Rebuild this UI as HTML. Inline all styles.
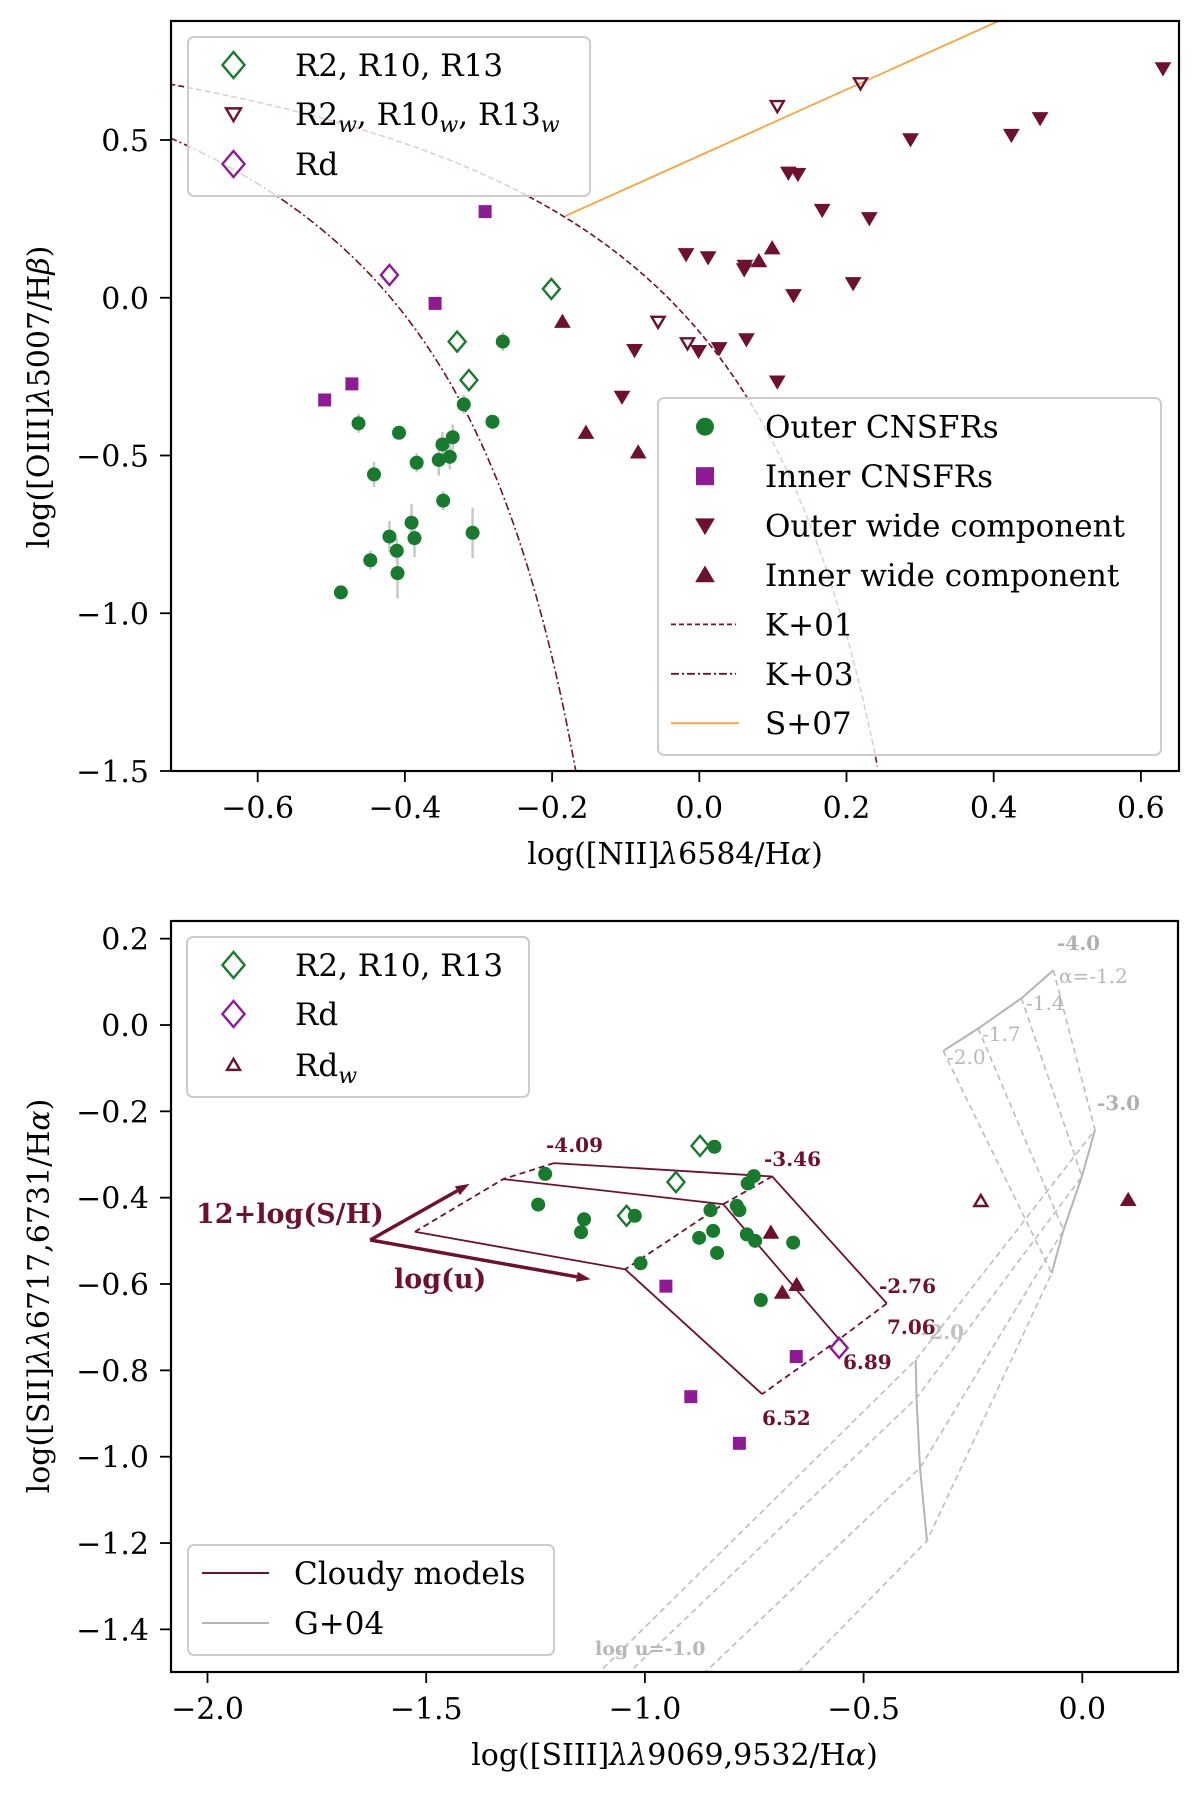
<!DOCTYPE html>
<html><head><meta charset="utf-8"><style>
html,body{margin:0;padding:0;background:#fff;}
svg{display:block;font-family:"DejaVu Serif","Liberation Serif",serif;}
</style></head><body>
<svg id="fig" width="1200" height="1795" viewBox="0 0 1200 1795" xmlns="http://www.w3.org/2000/svg">
<defs>
<clipPath id="clipA"><rect x="171" y="21" width="1008" height="750"/></clipPath>
<clipPath id="clipB"><rect x="171" y="921" width="1007" height="751"/></clipPath>
</defs>
<g id="plotA"></g>
<g id="plotB"></g>
</svg>
<script>
// ===== Panel A data =====
const aXTicks = [-0.6,-0.4,-0.2,0.0,0.2,0.4,0.6];
const aXTickLabels = ["\u22120.6","\u22120.4","\u22120.2","0.0","0.2","0.4","0.6"];
const aYTicks = [0.5,0.0,-0.5,-1.0,-1.5];
const aYTickLabels = ["0.5","0.0","\u22120.5","\u22121.0","\u22121.5"];
const aOuterX = [-0.267,-0.320,-0.281,-0.463,-0.408,-0.349,-0.335,-0.384,-0.354,-0.339,-0.442,-0.348,-0.391,-0.421,-0.387,-0.308,-0.411,-0.447,-0.410,-0.487];
const aOuterY = [-0.139,-0.338,-0.393,-0.398,-0.428,-0.465,-0.442,-0.523,-0.514,-0.504,-0.560,-0.643,-0.713,-0.757,-0.762,-0.745,-0.802,-0.832,-0.873,-0.934];
const aOuterErr = [0.03,0.03,0.02,0.03,0.02,0.04,0.04,0.03,0.05,0.04,0.04,0.03,0.06,0.05,0.06,0.08,0.04,0.03,0.08,0.02];
const aInnerX = [-0.291,-0.359,-0.472,-0.509];
const aInnerY = [0.273,-0.018,-0.273,-0.324];
const aOWX = [0.630,0.463,0.424,0.287,0.121,0.134,0.167,0.231,-0.018,0.012,0.062,0.061,0.209,0.128,-0.088,-0.001,0.027,0.064,-0.105,0.106];
const aOWY = [0.727,0.569,0.516,0.502,0.396,0.392,0.278,0.252,0.138,0.128,0.101,0.090,0.046,0.008,-0.166,-0.169,-0.160,-0.132,-0.314,-0.266];
const aIWX = [-0.186,-0.154,-0.083,0.099,0.081];
const aIWY = [-0.076,-0.428,-0.490,0.157,0.116];
const aRX = [-0.201,-0.329,-0.313];
const aRY = [0.028,-0.139,-0.261];
const aRWX = [0.106,0.219,-0.056,-0.016];
const aRWY = [0.608,0.680,-0.076,-0.144];
const aRdX = [-0.421];
const aRdY = [0.072];

// ===== Panel B data =====
const bXTicks = [-2.0,-1.5,-1.0,-0.5,0.0];
const bXTickLabels = ["\u22122.0","\u22121.5","\u22121.0","\u22120.5","0.0"];
const bYTicks = [0.2,0.0,-0.2,-0.4,-0.6,-0.8,-1.0,-1.2,-1.4];
const bYTickLabels = ["0.2","0.0","\u22120.2","\u22120.4","\u22120.6","\u22120.8","\u22121.0","\u22121.2","\u22121.4"];
const bOuterX = [-1.228,-1.244,-1.139,-1.146,-1.023,-1.010,-0.841,-0.751,-0.765,-0.850,-0.790,-0.784,-0.844,-0.876,-0.835,-0.767,-0.748,-0.661,-0.735];
const bOuterY = [-0.345,-0.416,-0.450,-0.480,-0.442,-0.552,-0.282,-0.350,-0.367,-0.429,-0.419,-0.429,-0.477,-0.493,-0.528,-0.485,-0.500,-0.504,-0.637];
const bInnerX = [-0.952,-0.654,-0.895,-0.784];
const bInnerY = [-0.605,-0.768,-0.861,-0.969];
const bRX = [-0.874,-0.929,-1.042];
const bRY = [-0.280,-0.364,-0.442];
const bRdX = [-0.556];
const bRdY = [-0.748];
const bIWX = [-0.712,-0.686,-0.653,0.105];
const bIWY = [-0.481,-0.620,-0.602,-0.405];
const bRdWX = [-0.232];
const bRdWY = [-0.408];
const cloudyRowsX = [[-1.208,-0.709,-0.447],[-1.324,-0.821,-0.556],[-1.526,-1.045,-0.732]];
const cloudyRowsY = [[-0.320,-0.351,-0.645],[-0.357,-0.415,-0.728],[-0.479,-0.566,-0.855]];
const gAlphaX = [[-0.066,0.029,-0.381,-1.105],[-0.139,-0.001,-0.379,-1.036],[-0.238,-0.043,-0.371,-0.863],[-0.318,-0.070,-0.355,-0.650]];
const gAlphaY = [[0.127,-0.243,-0.776,-1.5],[0.062,-0.351,-0.864,-1.5],[-0.008,-0.475,-1.026,-1.5],[-0.060,-0.575,-1.195,-1.5]];

const NS = "http://www.w3.org/2000/svg";
const DR = "#6e1030", GR = "#187a2c", PU = "#8e1a94", OR = "#f7a33a", GY = "#b4b4b4";

function mk(parent, tag, attrs, text) {
  const e = document.createElementNS(NS, tag);
  for (const k in attrs) e.setAttribute(k, attrs[k]);
  if (text !== undefined) e.textContent = text;
  parent.appendChild(e);
  return e;
}
const axA = { x: v => 699.3 + 736 * v, y: v => 297.75 - 315.5 * v };
const axB = { x: v => 1082.3 + 437.4 * v, y: v => 1025 - 431.7 * v };

function diamond(g, cx, cy, h, col) {
  return mk(g, "path", {d:`M${cx},${cy-h}L${cx+h*0.85},${cy}L${cx},${cy+h}L${cx-h*0.85},${cy}Z`, fill:"none", stroke:col, "stroke-width":2.4});
}
function tri(g, cx, cy, s, down, col, open) {
  const d = down ? `M${cx-s},${cy-s*0.75}L${cx+s},${cy-s*0.75}L${cx},${cy+s*0.95}Z` : `M${cx-s},${cy+s*0.75}L${cx+s},${cy+s*0.75}L${cx},${cy-s*0.95}Z`;
  return mk(g, "path", open ? {d:d, fill:"none", stroke:col, "stroke-width":2.4} : {d:d, fill:col, stroke:col, "stroke-width":1});
}
function square(g, cx, cy, s, col) { return mk(g, "rect", {x:cx-s, y:cy-s, width:2*s, height:2*s, fill:col}); }
function circ(g, cx, cy, r, col) { return mk(g, "circle", {cx:cx, cy:cy, r:r, fill:col}); }

// parts: strings, {i:"λ"} italic, {sub:"w"}
function richText(t, parts, subSize) {
  let shift = 0;
  parts.forEach(p => {
    if (typeof p === "string") { mk(t, "tspan", shift ? {dy:-shift} : {}, p); shift = 0; }
    else if (p.i !== undefined) { mk(t, "tspan", Object.assign({"font-style":"italic"}, shift ? {dy:-shift} : {}), p.i); shift = 0; }
    else { mk(t, "tspan", {"font-size":subSize, "font-style":"italic", dy:7}, p.sub); shift = 7; }
  });
}

function frame(g, L, T, R, B, xt, xl, yt, yl, ax, xlab, ylab, ylabY) {
  let e;
  e = mk(g, "rect", {x:L, y:T, width:R-L, height:B-T, fill:"none", stroke:"#000", "stroke-width":2.2});
  
  
  xt.forEach((v,i) => {
    const x = ax.x(v);
    mk(g, "line", {x1:x, x2:x, y1:B, y2:B+11, stroke:"#000", "stroke-width":1.8});
    e = mk(g, "text", {x:x, y:B+47, "font-size":30, "text-anchor":"middle", fill:"#000"}, xl[i]);
    
    
  });
  yt.forEach((v,i) => {
    const y = ax.y(v);
    mk(g, "line", {x1:L-11, x2:L, y1:y, y2:y, stroke:"#000", "stroke-width":1.8});
    e = mk(g, "text", {x:L-22, y:y+11, "font-size":30, "text-anchor":"end", fill:"#000"}, yl[i]);
    
    
  });
  e = mk(g, "text", {x:(L+R)/2, y:B+93, "font-size":30, "text-anchor":"middle"});
  richText(e, xlab, 22);
  
  
  e = mk(g, "text", {x:0, y:0, "font-size":30, "text-anchor":"middle", transform:`translate(49,${ylabY}) rotate(-90)`});
  richText(e, ylab, 22);
  
  
}
function legendBox(g, x, y, w, h, name) {
  const e = mk(g, "rect", {x:x, y:y, width:w, height:h, rx:6, fill:"#fff", "fill-opacity":0.8, stroke:"#cccccc", "stroke-width":2});
  
  
}
function ltext(g, x, y, parts) {
  const t = mk(g, "text", {x:x, y:y+11, "font-size":31, fill:"#000"});
  richText(t, parts, 22);
  
  
  return t;
}

// ===== Panel A =====
(function(){
  const g = document.getElementById("plotA");
  const ax = axA;
  const clip = mk(g, "g", {"clip-path":"url(#clipA)"});
  let d1 = "", d3 = "";
  for (let i = 0; i <= 300; i++) {
    const x = -0.72 + i * (0.242 + 0.72) / 300;
    const y = 0.61 / (x - 0.47) + 1.19;
    d1 += (i ? "L" : "M") + ax.x(x).toFixed(1) + "," + ax.y(y).toFixed(1);
  }
  for (let i = 0; i <= 300; i++) {
    const x = -0.72 + i * (-0.168 + 0.72) / 300;
    const y = 0.61 / (x - 0.05) + 1.3;
    d3 += (i ? "L" : "M") + ax.x(x).toFixed(1) + "," + ax.y(y).toFixed(1);
  }
  let e = mk(clip, "path", {d:d1, fill:"none", stroke:DR, "stroke-width":1.6, "stroke-dasharray":"6,3"});
  
  
  e = mk(clip, "path", {d:d3, fill:"none", stroke:DR, "stroke-width":1.6, "stroke-dasharray":"8,3,2,3"});
  
  
  const sx0 = -0.182, sx1 = 0.41;
  e = mk(clip, "line", {x1:ax.x(sx0), y1:ax.y(1.05*sx0+0.45), x2:ax.x(sx1), y2:ax.y(1.05*sx1+0.45), stroke:OR, "stroke-width":1.8});
  
  
  aOuterX.forEach((v,i) => {
    e = mk(clip, "line", {x1:ax.x(v), x2:ax.x(v), y1:ax.y(aOuterY[i]+aOuterErr[i]), y2:ax.y(aOuterY[i]-aOuterErr[i]), stroke:"#c8c8c8", "stroke-width":2.5});
    
    
  });
  aOuterX.forEach((v,i) => { e = circ(clip, ax.x(v), ax.y(aOuterY[i]), 7, GR);
    
     });
  aInnerX.forEach((v,i) => { e = square(clip, ax.x(v), ax.y(aInnerY[i]), 6.5, PU);
    
     });
  aOWX.forEach((v,i) => { e = tri(clip, ax.x(v), ax.y(aOWY[i]), 7.5, true, DR, false);
    
     });
  aIWX.forEach((v,i) => { e = tri(clip, ax.x(v), ax.y(aIWY[i]), 7.5, false, DR, false);
    
     });
  aRX.forEach((v,i) => { e = diamond(clip, ax.x(v), ax.y(aRY[i]), 10, GR);
    
     });
  aRWX.forEach((v,i) => { e = tri(clip, ax.x(v), ax.y(aRWY[i]), 6.5, true, DR, true);
    
     });
  aRdX.forEach((v,i) => { e = diamond(clip, ax.x(v), ax.y(aRdY[i]), 10, PU);
    
     });

  legendBox(g, 188, 37, 402, 159, "legend-regions");
  diamond(g, 233.5, 65, 13, GR); ltext(g, 295, 65, ["R2, R10, R13"]);
  tri(g, 233.5, 114, 7.5, true, DR, true);
  ltext(g, 295, 114, ["R2", {sub:"w"}, ", R10", {sub:"w"}, ", R13", {sub:"w"}]);
  diamond(g, 233.5, 164, 13, PU); ltext(g, 295, 164, ["Rd"]);
  legendBox(g, 658, 398, 503, 357, "legend-components");
  const rows = [426.7,476.2,525.6,575,624.4,673.8,723.2];
  circ(g, 705, rows[0], 9, GR); ltext(g, 765, rows[0], ["Outer CNSFRs"]);
  square(g, 705, rows[1], 9, PU); ltext(g, 765, rows[1], ["Inner CNSFRs"]);
  tri(g, 705, rows[2], 9, true, DR, false); ltext(g, 765, rows[2], ["Outer wide component"]);
  tri(g, 705, rows[3], 9, false, DR, false); ltext(g, 765, rows[3], ["Inner wide component"]);
  mk(g, "line", {x1:671, x2:736, y1:rows[4], y2:rows[4], stroke:DR, "stroke-width":1.8, "stroke-dasharray":"5,3"}); ltext(g, 765, rows[4], ["K+01"]);
  mk(g, "line", {x1:671, x2:736, y1:rows[5], y2:rows[5], stroke:DR, "stroke-width":1.8, "stroke-dasharray":"8,3,2,3"}); ltext(g, 765, rows[5], ["K+03"]);
  mk(g, "line", {x1:671, x2:739, y1:rows[6], y2:rows[6], stroke:OR, "stroke-width":1.8}); ltext(g, 765, rows[6], ["S+07"]);

  frame(g, 171, 21, 1179, 771, aXTicks, aXTickLabels, aYTicks, aYTickLabels, ax,
    ["log([NII]", {i:"\u03bb"}, "6584/H", {i:"\u03b1"}, ")"], ["log([OIII]", {i:"\u03bb"}, "5007/H", {i:"\u03b2"}, ")"], 397);
})();

// ===== Panel B =====
(function(){
  const g = document.getElementById("plotB");
  const ax = axB;
  const clip = mk(g, "g", {"clip-path":"url(#clipB)"});
  let e;
  const nU = gAlphaX[0].length;
  for (let u = 0; u < nU - 1; u++) {
    const pts = gAlphaX.map((xs,a) => ax.x(xs[u]).toFixed(1) + "," + ax.y(gAlphaY[a][u]).toFixed(1)).join(" ");
    e = mk(clip, "polyline", {points:pts, fill:"none", stroke:GY, "stroke-width":2});
    
    
  }
  gAlphaX.forEach((xs,a) => {
    const pts = xs.map((x,k) => ax.x(x).toFixed(1) + "," + ax.y(gAlphaY[a][k]).toFixed(1)).join(" ");
    e = mk(clip, "polyline", {points:pts, fill:"none", stroke:"#bdbdbd", "stroke-width":1.6, "stroke-dasharray":"6,4"});
    
    
  });
  cloudyRowsX.forEach((xs,r) => {
    const pts = xs.map((x,k) => ax.x(x).toFixed(1) + "," + ax.y(cloudyRowsY[r][k]).toFixed(1)).join(" ");
    e = mk(clip, "polyline", {points:pts, fill:"none", stroke:DR, "stroke-width":1.8});
    
    
  });
  for (let c = 0; c < 3; c++) {
    const pts = cloudyRowsX.map((xs,r) => ax.x(xs[c]).toFixed(1) + "," + ax.y(cloudyRowsY[r][c]).toFixed(1)).join(" ");
    e = mk(clip, "polyline", {points:pts, fill:"none", stroke:DR, "stroke-width":1.8, "stroke-dasharray":"6,4"});
    
    
  }
  const ox = ax.x(-1.628), oy = ax.y(-0.498);
  [[-1.401,-0.368],[-1.124,-0.589]].forEach(p => {
    const tx = ax.x(p[0]), ty = ax.y(p[1]);
    const ang = Math.atan2(ty-oy, tx-ox);
    const bx = tx - 14*Math.cos(ang), by = ty - 14*Math.sin(ang);
    mk(g, "line", {x1:ox, y1:oy, x2:bx, y2:by, stroke:DR, "stroke-width":3.5});
    e = mk(g, "path", {d:`M${tx},${ty}L${bx-5*Math.sin(ang)},${by+5*Math.cos(ang)}L${bx+5*Math.sin(ang)},${by-5*Math.cos(ang)}Z`, fill:DR});
    
    
  });
  const lab = (x,y,t,s,c,w) => { const el = mk(g, "text", {x:x, y:y, "font-size":s, fill:c, "font-weight":w}, t);
    
     return el; };
  lab(196, 1223, "12+log(S/H)", 27, DR, "bold");
  lab(394, 1288, "log(u)", 27, DR, "bold");
  lab(546, 1152, "-4.09", 20, DR, "bold");
  lab(764, 1166, "-3.46", 20, DR, "bold");
  lab(879, 1293, "-2.76", 20, DR, "bold");
  lab(843, 1369, "6.89", 20, DR, "bold");
  lab(762, 1425, "6.52", 20, DR, "bold");
  lab(921, 1339, "-2.0", 20, "#c0c0c0", "bold");
  lab(887, 1334, "7.06", 20, DR, "bold");
  lab(1057, 950, "-4.0", 20, "#b0b0b0", "bold");
  lab(1097, 1110, "-3.0", 20, "#b0b0b0", "bold");
  lab(1059, 983, "\u03b1=-1.2", 20, "#b8b8b8", "normal");
  lab(1026, 1010, "-1.4", 20, "#b8b8b8", "normal");
  lab(982, 1041, "-1.7", 20, "#b8b8b8", "normal");
  lab(947, 1064, "-2.0", 20, "#b8b8b8", "normal");
  lab(595, 1655, "log u=-1.0", 19, "#b8b8b8", "bold");

  bOuterX.forEach((v,i) => { e = circ(clip, ax.x(v), ax.y(bOuterY[i]), 7, GR);
    
     });
  bInnerX.forEach((v,i) => { e = square(clip, ax.x(v), ax.y(bInnerY[i]), 6.5, PU);
    
     });
  bRX.forEach((v,i) => { e = diamond(clip, ax.x(v), ax.y(bRY[i]), 10, GR);
    
     });
  bRdX.forEach((v,i) => { e = diamond(clip, ax.x(v), ax.y(bRdY[i]), 10, PU);
    
     });
  bIWX.forEach((v,i) => { e = tri(clip, ax.x(v), ax.y(bIWY[i]), 7.5, false, DR, false);
    
     });
  bRdWX.forEach((v,i) => { e = tri(clip, ax.x(v), ax.y(bRdWY[i]), 6.5, false, DR, true);
    
     });

  legendBox(g, 187, 937, 342, 160, "legend-regions-bottom");
  diamond(g, 233.5, 965, 13, GR); ltext(g, 295, 965, ["R2, R10, R13"]);
  diamond(g, 233.5, 1014, 13, PU); ltext(g, 295, 1014, ["Rd"]);
  tri(g, 233.5, 1065, 6.5, false, DR, true); ltext(g, 295, 1065, ["Rd", {sub:"w"}]);
  legendBox(g, 188, 1545, 366, 110, "legend-models");
  mk(g, "line", {x1:202, x2:269, y1:1573, y2:1573, stroke:DR, "stroke-width":2}); ltext(g, 294, 1573, ["Cloudy models"]);
  mk(g, "line", {x1:202, x2:269, y1:1623, y2:1623, stroke:GY, "stroke-width":2}); ltext(g, 294, 1623, ["G+04"]);

  frame(g, 171, 921, 1178, 1672, bXTicks, bXTickLabels, bYTicks, bYTickLabels, ax,
    ["log([SIII]", {i:"\u03bb\u03bb"}, "9069,9532/H", {i:"\u03b1"}, ")"], ["log([SII]", {i:"\u03bb\u03bb"}, "6717,6731/H", {i:"\u03b1"}, ")"], 1296);
})();
</script>
</body></html>
